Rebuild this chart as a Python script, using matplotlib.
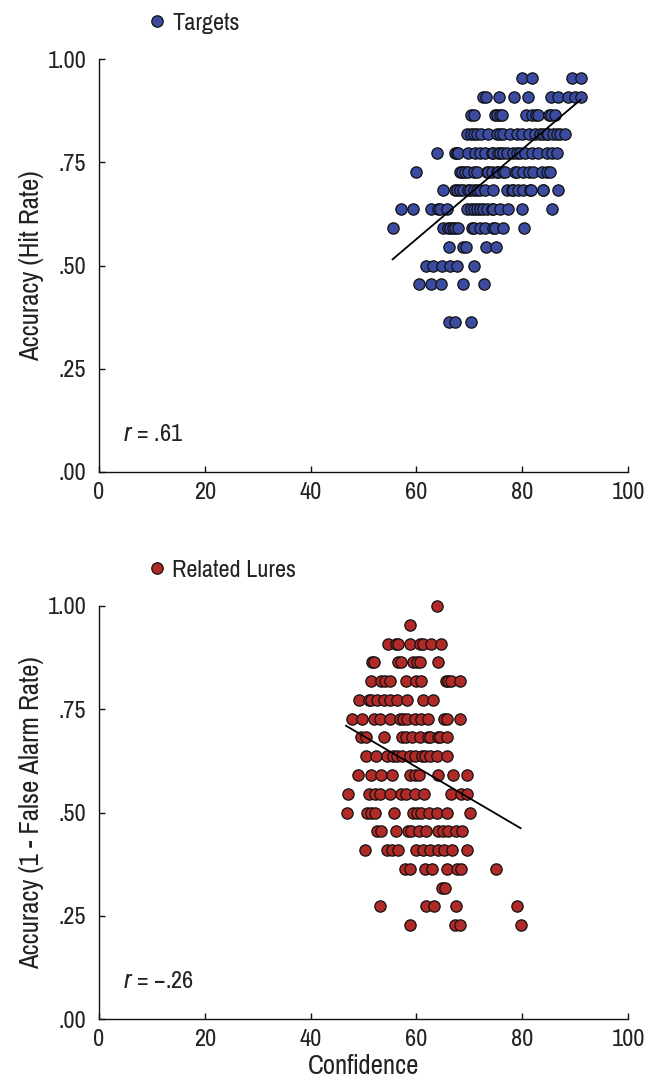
import matplotlib
matplotlib.use("Agg")
import matplotlib.pyplot as plt
from matplotlib.lines import Line2D
from matplotlib import font_manager as fm

# pick an installed condensed sans (reference uses Helvetica Condensed)
available = {f.name for f in fm.fontManager.ttflist}
italic_available = {f.name for f in fm.fontManager.ttflist if f.style == 'italic'}
candidates = ['Liberation Sans Narrow', 'Arial Narrow', 'Nimbus Sans Narrow',
              'Pragati Narrow', 'Roboto Condensed', 'Archivo Narrow',
              'PT Sans Narrow', 'Sofia Sans Condensed', 'IBM Plex Sans Condensed',
              'Fira Sans Condensed', 'Encode Sans Condensed', 'Liberation Sans']
FONT = next((c for c in candidates if c in available), 'DejaVu Sans')
FONT_IT = next((c for c in candidates if c in italic_available), 'DejaVu Sans')
plt.rcParams['font.family'] = [FONT, 'DejaVu Sans']
plt.rcParams['mathtext.fontset'] = 'custom'
plt.rcParams['mathtext.it'] = FONT_IT + ':italic'
plt.rcParams['mathtext.rm'] = FONT

# ---------------- data ----------------
# Targets: accuracy (hit rate) levels and the confidence values at each level
targets_levels = [0.955, 0.909, 0.864, 0.818, 0.773, 0.727, 0.682, 0.636,
                  0.591, 0.545, 0.500, 0.455, 0.364]
targets_conf = [
    [79.9, 81.9, 89.4, 91.1],
    [72.6, 73.1, 75.6, 78.4, 81.1, 85.4, 86.8, 88.6, 90.0, 91.1],
    [70.3, 70.9, 74.8, 75.2, 75.8, 76.1, 80.7, 81.8, 82.7, 83.0, 85.1, 85.5, 86.2],
    [69.5, 70.4, 70.8, 71.4, 72.3, 73.6, 75.2, 75.8, 76.4, 77.7, 79.0, 79.9,
     81.2, 82.4, 83.4, 84.0, 84.6, 84.9, 85.9, 86.5, 87.1, 88.1],
    [63.8, 67.3, 67.7, 67.9, 69.8, 71.1, 72.0, 73.0, 74.2, 74.5, 75.5, 75.8,
     76.4, 77.1, 78.3, 79.0, 79.6, 80.5, 81.8, 83.0, 84.6, 85.6, 86.5],
    [59.9, 68.2, 68.6, 69.2, 69.8, 70.8, 71.4, 73.3, 73.6, 74.2, 75.2, 75.5,
     76.4, 76.7, 78.6, 79.0, 80.2, 81.2, 82.1, 83.7, 84.6, 85.3],
    [65.1, 67.3, 67.6, 68.2, 68.9, 69.8, 70.1, 70.8, 71.4, 72.0, 73.0, 74.5,
     77.1, 78.0, 78.3, 79.3, 80.1, 81.5, 81.6, 83.9, 84.0, 86.8],
    [57.0, 59.4, 62.8, 64.1, 64.5, 65.7, 69.5, 70.4, 70.8, 71.4, 72.0, 72.6,
     73.3, 74.2, 74.5, 75.8, 77.4, 79.9, 85.7],
    [55.6, 65.0, 66.0, 66.4, 67.0, 67.3, 67.9, 70.6, 70.8, 72.0, 73.0, 74.5,
     74.9, 76.3, 80.3],
    [66.2, 68.8, 69.4, 73.2, 75.0],
    [61.8, 63.1, 64.8, 66.4, 67.7, 70.9],
    [60.5, 62.8, 64.6, 68.9, 72.7],
    [66.2, 67.3, 70.3],
]
targets_fit_conf = [55.5, 91.0]
targets_fit_acc = [0.515, 0.901]

# Related lures: accuracy (1 - false alarm rate) levels and confidence values
lures_levels = [1.000, 0.955, 0.909, 0.864, 0.818, 0.773, 0.727, 0.682, 0.636,
                0.591, 0.545, 0.500, 0.455, 0.409, 0.364, 0.318, 0.273, 0.227]
lures_conf = [
    [63.8],
    [58.8],
    [54.7, 56.1, 56.6, 58.7, 60.7, 61.3, 62.8, 64.7],
    [51.7, 52.0, 56.6, 57.0, 59.3, 60.2, 60.7, 64.0],
    [51.5, 53.3, 54.1, 55.1, 58.0, 59.9, 60.8, 65.6, 66.0, 66.5, 68.2],
    [49.2, 51.1, 51.5, 52.5, 53.9, 55.0, 56.4, 58.3, 61.3, 63.2],
    [47.9, 49.7, 52.0, 53.1, 55.1, 56.9, 57.5, 58.3, 59.7, 60.8, 62.2, 65.2, 65.8, 68.2],
    [49.5, 50.5, 53.9, 57.2, 58.0, 59.1, 60.7, 62.2, 62.6, 64.1, 64.5, 65.8],
    [50.5, 52.4, 54.5, 55.5, 56.3, 57.2, 58.8, 59.7, 61.0, 61.6, 62.6, 63.8, 65.8],
    [49.0, 51.4, 53.4, 55.3, 58.8, 59.7, 60.4, 64.1, 67.0, 69.5],
    [47.1, 51.1, 52.2, 53.1, 55.0, 57.0, 58.1, 59.7, 61.4, 66.5, 68.4, 69.5],
    [46.8, 50.7, 51.4, 52.2, 55.8, 59.3, 60.1, 60.8, 62.4, 63.8, 65.7, 70.1],
    [52.5, 53.3, 56.1, 58.5, 58.9, 60.5, 61.8, 64.1, 65.1, 66.0, 67.5, 68.6],
    [50.3, 54.4, 55.3, 56.6, 60.0, 61.3, 62.6, 64.0, 65.2, 66.7, 69.5],
    [57.8, 58.8, 61.6, 62.9, 65.7, 67.6, 68.4, 75.0],
    [64.8, 65.4],
    [53.1, 61.9, 63.3, 67.5, 79.0],
    [58.8, 67.3, 68.2, 79.7],
]
lures_fit_conf = [46.7, 79.7]
lures_fit_acc = [0.710, 0.462]

x_ticks = [0, 20, 40, 60, 80, 100]
y_ticks = [0.0, 0.25, 0.5, 0.75, 1.0]
y_tick_labels = ['.00', '.25', '.50', '.75', '1.00']

panels = [
    dict(levels=targets_levels, conf=targets_conf, fit_x=targets_fit_conf,
         fit_y=targets_fit_acc, color='#3a4ba0', label='Targets',
         ylabel='Accuracy (Hit Rate)', r='$r$ = .61', xlabel=None),
    dict(levels=lures_levels, conf=lures_conf, fit_x=lures_fit_conf,
         fit_y=lures_fit_acc, color='#b02a28', label='Related Lures',
         ylabel='Accuracy (1 - False Alarm Rate)', r='$r$ = \u2212.26',
         xlabel='Confidence'),
]

W, H = 659, 1081
fig = plt.figure(figsize=(W / 100, H / 100), dpi=100)
FS = 19
FS_LABEL = 21
TXT = '#222222'

ax_boxes = [
    (99 / W, 1 - 472 / H, 529 / W, 413 / H),
    (99 / W, 1 - 1019 / H, 529 / W, 413 / H),
]

for box, p in zip(ax_boxes, panels):
    ax = fig.add_axes(box)
    xs = []
    ys = []
    for lvl, cs in zip(p['levels'], p['conf']):
        xs.extend(cs)
        ys.extend([lvl] * len(cs))
    ax.scatter(xs, ys, s=66, c=p['color'], edgecolors='#111111',
               linewidths=0.9, zorder=3, clip_on=False)
    ax.plot(p['fit_x'], p['fit_y'], color='black', lw=1.3, zorder=4)

    ax.set_xlim(0, 100)
    ax.set_ylim(0, 1)
    ax.set_xticks(x_ticks)
    ax.set_xticklabels([str(t) for t in x_ticks])
    ax.set_yticks(y_ticks)
    ax.set_yticklabels(y_tick_labels)
    for s in ['top', 'right']:
        ax.spines[s].set_visible(False)
    for s in ['left', 'bottom']:
        ax.spines[s].set_linewidth(1.0)
        ax.spines[s].set_color('#111111')
    ax.tick_params(axis='both', direction='in', length=4.5, width=1.0,
                   labelsize=FS, labelcolor=TXT, color='#111111')
    ax.tick_params(axis='x', pad=7)
    ax.tick_params(axis='y', pad=9)
    ax.set_ylabel(p['ylabel'], fontsize=FS_LABEL, color=TXT, labelpad=3)
    if p['xlabel']:
        ax.set_xlabel(p['xlabel'], fontsize=FS_LABEL, color=TXT, labelpad=3)
    ax.text(4.5, 0.09, p['r'], fontsize=FS, color=TXT, va='center', ha='left')

    handle = Line2D([], [], marker='o', linestyle='none', markersize=8.2,
                    markerfacecolor=p['color'], markeredgecolor='#111111',
                    markeredgewidth=0.9)
    ax.legend([handle], [p['label']], loc='center left',
              bbox_to_anchor=((150 - 99) / 529, 1.087), frameon=False,
              borderpad=0, borderaxespad=0, handlelength=0.52,
              handletextpad=0.32, fontsize=FS, labelcolor=TXT)

fig.savefig('out.png', dpi=100)
